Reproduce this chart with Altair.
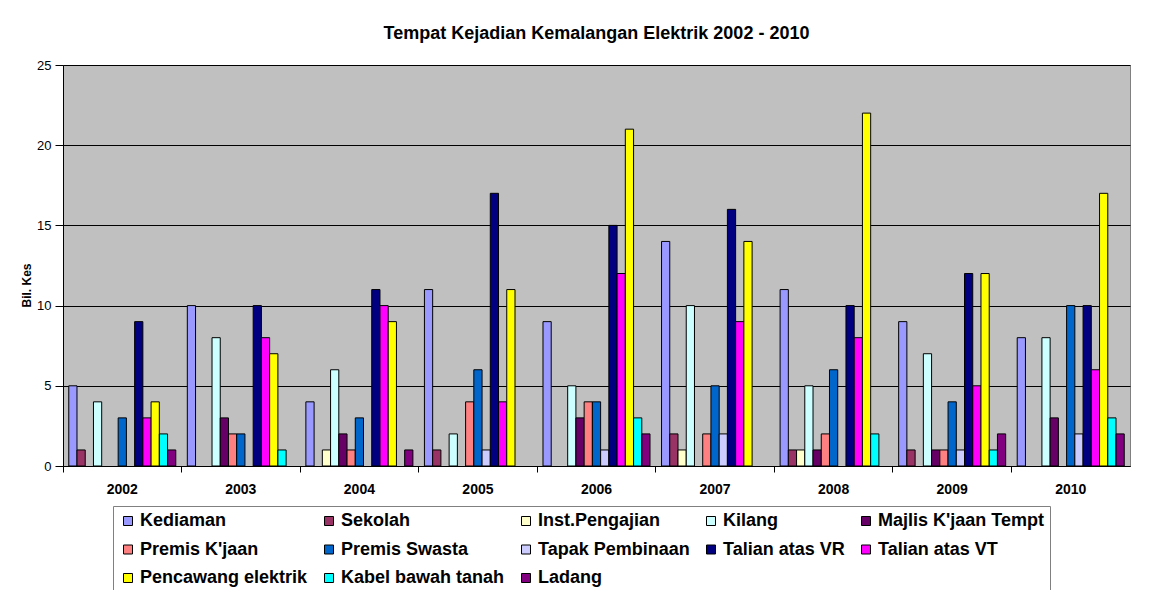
import altair as alt
import pandas as pd

years = ["2002", "2003", "2004", "2005", "2006", "2007", "2008", "2009", "2010"]
series = ["Kediaman", "Sekolah", "Inst.Pengajian", "Kilang", "Majlis K'jaan Tempt",
          "Premis K'jaan", "Premis Swasta", "Tapak Pembinaan", "Talian atas VR",
          "Talian atas VT", "Pencawang elektrik", "Kabel bawah tanah", "Ladang"]
colors = ["#9999FF", "#993366", "#FFFFCC", "#CCFFFF", "#660066",
          "#FF8080", "#0066CC", "#CCCCFF", "#000080",
          "#FF00FF", "#FFFF00", "#00FFFF", "#800080"]

kediaman = [5, 10, 4, 11, 9, 14, 11, 9, 8]
sekolah = [1, 0, 0, 1, 0, 2, 1, 1, 0]
inst_pengajian = [0, 0, 1, 0, 0, 1, 1, 0, 0]
kilang = [4, 8, 6, 2, 5, 10, 5, 7, 8]
majlis = [0, 3, 2, 0, 3, 0, 1, 1, 3]
premis_kjaan = [0, 2, 1, 4, 4, 2, 2, 1, 0]
premis_swasta = [3, 2, 3, 6, 4, 5, 6, 4, 10]
tapak = [0, 0, 0, 1, 1, 2, 0, 1, 2]
talian_vr = [9, 10, 11, 17, 15, 16, 10, 12, 10]
talian_vt = [3, 8, 10, 4, 12, 9, 8, 5, 6]
pencawang = [4, 7, 9, 11, 21, 14, 22, 12, 17]
kabel = [2, 1, 0, 0, 3, 0, 2, 1, 3]
ladang = [1, 0, 1, 0, 2, 0, 0, 2, 2]

values = [kediaman, sekolah, inst_pengajian, kilang, majlis, premis_kjaan,
          premis_swasta, tapak, talian_vr, talian_vt, pencawang, kabel, ladang]

rows = []
for s, vals in zip(series, values):
    for y, v in zip(years, vals):
        rows.append({"Tahun": y, "Tempat": s, "Kes": v})
df = pd.DataFrame(rows)

FONT = "Liberation Sans"

bars = alt.Chart(df).transform_filter("datum.Kes > 0").mark_bar(
    stroke="#000000", strokeWidth=1
).encode(
    x=alt.X("Tahun:N", sort=years,
            scale=alt.Scale(paddingInner=0, paddingOuter=0),
            axis=alt.Axis(title=None, bandPosition=0,
                          labelAngle=0, labelFont=FONT, labelFontSize=14,
                          labelFontWeight="bold", labelColor="#000000",
                          labelPadding=10, tickSize=6, tickColor="#000000",
                          domainColor="#000000")),
    xOffset=alt.XOffset("Tempat:N", sort=series,
                        scale=alt.Scale(domain=series, paddingInner=0, paddingOuter=0.7)),
    y=alt.Y("Kes:Q", scale=alt.Scale(domain=[0, 25], nice=False),
            axis=alt.Axis(title="Bil. Kes", values=[0, 5, 10, 15, 20, 25],
                          grid=True, gridColor="#000000", gridWidth=1,
                          tickSize=8, tickColor="#000000", domainColor="#000000",
                          labelFont=FONT, labelFontSize=13, labelColor="#000000",
                          labelPadding=4,
                          titleFont=FONT, titleFontSize=12, titleFontWeight="bold",
                          titleColor="#000000", titleX=-30, titleY=220,
                          titleAlign="center", titleBaseline="bottom")),
    color=alt.Color("Tempat:N", sort=series,
                    scale=alt.Scale(domain=series, range=colors),
                    legend=alt.Legend(title=None, orient="none", legendX=50, legendY=441,
                                      columns=5, direction="horizontal",
                                      symbolType="square", symbolSize=81,
                                      symbolStrokeColor="#000000", symbolStrokeWidth=1,
                                      labelFont=FONT, labelFontSize=18,
                                      labelFontWeight="bold", labelColor="#000000",
                                      labelLimit=400, labelOffset=3,
                                      rowPadding=10.5, columnPadding=12,
                                      padding=6, strokeColor="#808080",
                                      fillColor="#FFFFFF")),
    tooltip=["Tahun", "Tempat", "Kes"]
).properties(
    width=1067, height=401,
    title=alt.Title("Tempat Kejadian Kemalangan Elektrik 2002 - 2010",
                    font=FONT, fontSize=18, fontWeight="bold", color="#000000",
                    anchor="middle", offset=16)
)

chart = bars.properties(
    autosize=alt.AutoSizeParams(type="none"),
    padding={"left": 55, "top": 57, "right": 12, "bottom": 124},
    background="#FFFFFF"
).configure_view(
    fill="#C0C0C0", stroke="#808080", strokeWidth=1
)

chart.save("out.html", embed_options={"renderer": "svg", "actions": False})
